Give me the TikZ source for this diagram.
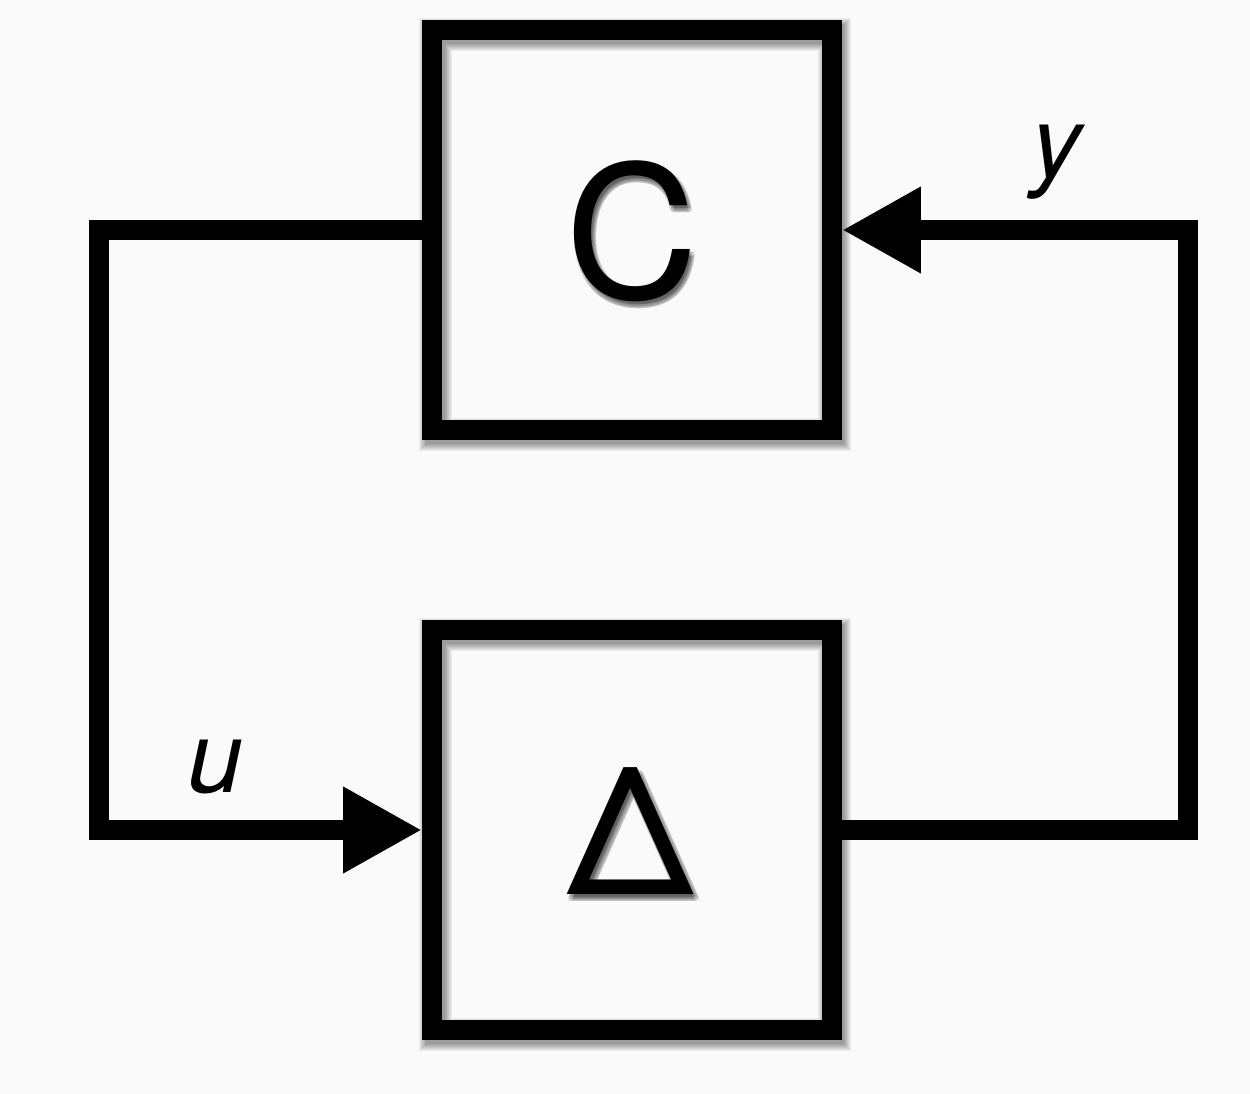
\documentclass[tikz,border=0pt]{standalone}
\usepackage{fontspec}
\setmainfont{TeX Gyre Heros}
\usetikzlibrary{arrows.meta,calc}
\definecolor{bg}{HTML}{FAFAFA}
\newcommand\bigf{\fontsize{105}{115}\selectfont}
\newcommand\delf{\fontsize{101}{110}\selectfont}
\newcommand\labf{\fontsize{57}{64}\selectfont\itshape}
\begin{document}
\begin{tikzpicture}[x=0.02cm,y=-0.02cm,
  shd/.style={preaction={draw=black,draw opacity=0.055,line width=#1,
      transform canvas={shift={(0.06cm,-0.09cm)}}}},
  blk/.style={draw=black,line width=0.4cm,minimum width=8cm,minimum height=8cm,
      inner sep=0pt,
      shd=0.66cm,shd=0.62cm,shd=0.58cm,shd=0.54cm,shd=0.50cm,shd=0.46cm,shd=0.42cm,shd=0.38cm},
  wire/.style={line width=0.4cm,line join=miter},
  tip/.style={-{Triangle[length=1.58cm,width=1.62cm]}},
  lab/.style={font=\labf,inner sep=0pt},
  big/.style={inner sep=0pt},
  tsh/.style={text=black,text opacity=0.07,inner sep=0pt}]
\fill[bg] (0,0) rectangle (1250,1094);
\useasboundingbox (0,0) rectangle (1250,1094);

% text shadows
\foreach \a in {0,30,...,330}{
  \node[tsh,font=\bigf] (cs\a) at ($(632,231)+(3,5)+(\a:2.5)$) {C};
  \node[tsh,font=\delf] (ds\a) at ($(631,831)+(3,5)+(\a:2.5)$) {Δ};
}

% blocks
\node[blk] (C) at (632,230) {};
\node[blk] (D) at (632,830) {};
\node[big,font=\bigf] (Ct) at (632,231) {C};
\node[big,font=\delf] (Dt) at (631,831) {Δ};

% corners
\coordinate (lt) at (99,230);
\coordinate (lb) at (99,830);
\coordinate (rb) at (1188,830);
\coordinate (rt) at (1188,230);

% wires
\draw[wire,tip] (C.west) -- (lt) -- (lb) -- (D.west);
\draw[wire,tip] (D.east) -- (rb) -- (rt) -- (C.east);

% labels
\node[lab] (u) at (215,767) {u};
\node[lab] (y) at (1057,162) {y};
\end{tikzpicture}
\end{document}
